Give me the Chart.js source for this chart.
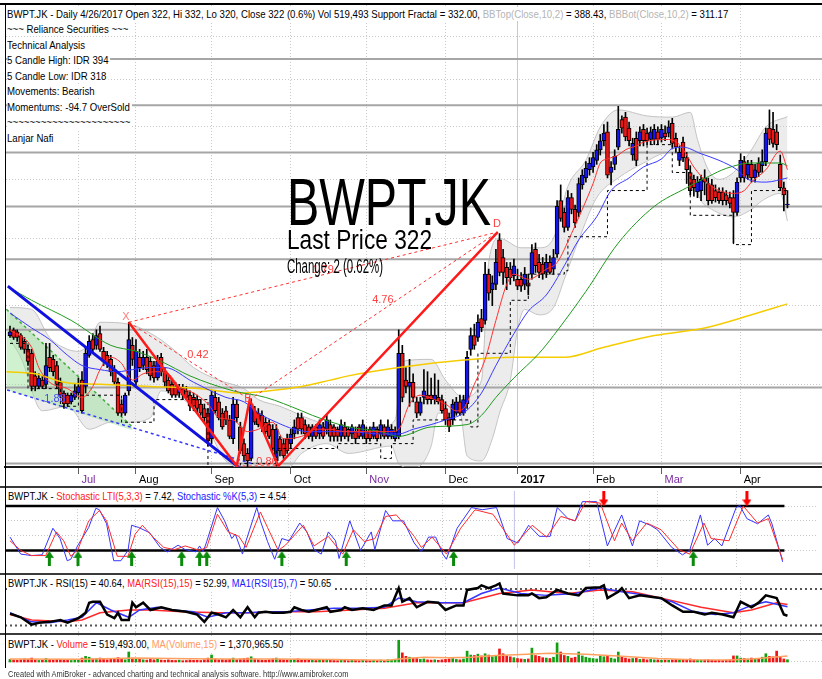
<!DOCTYPE html>
<html>
<head>
<meta charset="utf-8">
<script src="https://cdn.jsdelivr.net/npm/chart.js@4.4.1/dist/chart.umd.min.js"></script>
<style>
html, body { margin: 0; padding: 0; background: #fff; }
#wrap { position: relative; width: 822px; height: 679px; overflow: hidden; background: #fff; }
.pane { position: absolute; left: 0; width: 822px; }
.sep { position: absolute; left: 0; width: 822px; background: #3a3a3a; }
.t { position: absolute; font-family: "Liberation Sans", Arial, sans-serif; font-size: 11px; line-height: 14px;
     white-space: nowrap; background: #fff; color: #000; transform-origin: 0 0; padding-right: 2px; }
.big { position: absolute; font-family: "Liberation Sans", Arial, sans-serif; white-space: nowrap; color: #000; transform-origin: 0 0; }
.g { color: #b4b4b4; } .r { color: #ff2020; } .b { color: #2020ff; } .o { color: #ff9a60; }
</style>
</head>
<body>
<div id="wrap">
  <div class="pane" style="top:0;height:487px"><canvas id="cPrice"></canvas></div>
  <div class="pane" style="top:486px;height:88px"><canvas id="cStoch"></canvas></div>
  <div class="pane" style="top:574px;height:58px"><canvas id="cRsi"></canvas></div>
  <div class="pane" style="top:632px;height:36px"><canvas id="cVol"></canvas></div>

  <div class="sep" style="top:3px;height:2px;background:#000"></div>
  <div class="sep" style="top:486px;height:2px"></div>
  <div class="sep" style="top:573px;height:2px"></div>
  <div class="sep" style="top:633px;height:2px"></div>
  <div class="sep" style="top:3px;left:5px;width:1px;height:665px;background:#000"></div>

  <div class="t" id="title" style="left:7px;top:6.7px" data-w="723">BWPT.JK - Daily 4/26/2017 Open 322, Hi 332, Lo 320, Close 322 (0.6%) Vol 519,493 Support Fractal = 332.00, <span class="g">BBTop(Close,10,2)</span> = 388.43, <span class="g">BBBot(Close,10,2)</span> = 311.17</div>
  <div class="t" data-ref="title" style="left:7px;top:22.2px">~~~ Reliance Securities ~~~</div>
  <div class="t" data-ref="title" style="left:7px;top:37.7px">Technical Analysis</div>
  <div class="t" data-ref="title" style="left:7px;top:53.2px">5 Candle High: IDR 394</div>
  <div class="t" data-ref="title" style="left:7px;top:68.7px">5 Candle Low: IDR 318</div>
  <div class="t" data-ref="title" style="left:7px;top:84.2px">Movements: Bearish</div>
  <div class="t" data-ref="title" style="left:7px;top:99.7px">Momentums: -94.7 OverSold</div>
  <div class="t" data-ref="title" style="left:7px;top:115.2px">~~~~~~~~~~~~~~~~~~~~~~</div>
  <div class="t" data-ref="title" style="left:7px;top:130.7px">Lanjar Nafi</div>

  <div class="big" style="left:287px;top:169px;font-size:66px;line-height:66px" data-w="204">BWPT.JK</div>
  <div class="big" style="left:287px;top:227px;font-size:27px;line-height:27px" data-w="145">Last Price 322</div>
  <div class="big" style="left:287px;top:256px;font-size:20px;line-height:20px" data-w="96">Change: 2 (0.62%)</div>

  <div class="t" style="left:8px;top:489px;line-height:15px" data-w="280">BWPT.JK - <span class="r">Stochastic LTI(5,3,3)</span> = 7.42, <span class="b">Stochastic %K(5,3)</span> = 4.54</div>
  <div class="t" style="left:8px;top:576px;line-height:15px" data-w="325">BWPT.JK - RSI(15) = 40.64, <span class="r">MA(RSI(15),15)</span> = 52.99, <span class="b">MA1(RSI(15),7)</span> = 50.65</div>
  <div class="t" style="left:8px;top:637px" data-w="277">BWPT.JK - <span class="r">Volume</span> = 519,493.00, <span class="o">MA(Volume,15)</span> = 1,370,965.50</div>
  <div class="t" style="left:8px;top:669.4px;font-size:9px;line-height:11px;color:#333;background:none" data-w="342">Created with AmiBroker - advanced charting and technical analysis software. http://www.amibroker.com</div>
</div>

<script>
// ---- bars: one per trading day, Jun 2016 .. 26 Apr 2017 ----
const opens = [244,247,246,244,241,237,235,224,219,222, 220,233,232,229,221,216,215,212,214,216,
  222,219,234,242,239,245,236,234,232,227, 221,211,207,217,239,221,233,229,233,231,
  229,223,233,226,222,220,219,216,218,217, 215,214,213,211,209,207,196,214,212,207,
  208,204,196,211,201,194,190,188,208,207, 206,203,202,200,187,196,194,196,194,198,
  205,205,202,201,197,201,198,201,200,202, 201,200,197,201,200,198,199,201,197,199,
  200,197,200,198,201,197,197,196,197,235, 222,219,221,212,207,214,215,215,213,214,
  213,209,205,204,207,212,207,211,237,244, 243,253,252,278,269,272,299,288,282,281,
  277,275,275,272,273,278,293,285,284,279, 285,281,290,325,317,307,327,319,317,336,
  341,347,349,354,362,369,376,345,351,364, 386,388,379,358,371,369,378,375,370,370,
  376,371,375,375,383,371,354,368,356,345, 340,331,332,341,337,336,332,331,331,329,
  327,327,317,341,353,343,351,341,352,350, 353,379,378,376,351,334,322];
const highs = [249,248,247,245,243,239,237,226,225,224, 240,240,234,231,223,217,216,216,220,223,
  226,238,244,245,247,249,238,236,234,229, 223,213,216,251,243,242,237,236,237,233,
  231,234,235,228,224,222,221,220,220,219, 217,216,215,213,211,209,217,217,214,209,
  210,206,214,213,203,196,192,213,210,209, 208,205,204,202,202,197,196,198,200,204,
  207,207,204,202,202,202,204,203,206,204, 202,201,204,203,201,202,201,202,204,201,
  201,203,201,204,202,204,202,201,247,239, 228,232,225,214,214,227,226,223,225,222,
  215,212,207,213,214,215,215,236,248,250, 255,258,285,281,277,293,303,293,285,285,
  287,281,279,282,278,296,297,290,288,290, 289,293,325,336,320,332,330,322,341,347,
  353,356,360,366,374,382,384,353,362,397, 389,392,384,371,376,380,382,379,380,382,
  380,382,381,385,387,375,365,372,360,350, 343,342,343,347,341,340,336,334,334,332,
  331,332,341,359,357,354,354,351,356,362, 379,394,392,382,358,338,332];
const lows = [243,242,241,237,235,229,217,217,218,218, 218,226,224,218,214,209,210,211,213,215,
  207,216,233,235,237,236,229,228,224,220, 206,206,206,215,229,219,226,227,225,222,
  221,222,224,219,216,214,214,214,213,213, 208,208,207,206,203,193,194,207,204,200,
  202,196,194,203,190,187,184,187,202,201, 199,198,196,191,185,189,188,190,192,196,
  198,198,196,196,195,196,196,196,198,195, 195,195,195,196,195,196,194,196,196,194,
  195,196,195,196,196,196,196,195,196,212, 216,210,212,205,206,211,211,211,211,211,
  207,202,199,202,206,206,206,209,234,237, 241,246,250,263,260,269,277,272,269,272,
  274,269,268,269,266,275,279,276,275,276, 278,278,288,311,304,305,316,307,314,333,
  338,343,345,351,358,365,341,336,347,362, 375,369,365,354,350,365,365,366,366,366,
  366,368,369,372,364,360,350,353,337,329, 328,327,325,329,322,323,324,323,322,322,
  320,297,315,338,338,340,338,338,342,345, 350,366,364,362,332,318,320];
const closes = [246,243,243,238,237,231,219,219,223,219, 229,228,226,220,215,211,211,215,217,219,
  208,235,241,237,244,237,231,230,226,221, 207,207,215,242,232,236,228,233,227,224,
  223,231,226,221,217,215,215,218,215,214, 210,210,209,207,205,195,215,208,205,201,
  204,197,211,205,191,189,187,211,203,202, 201,199,197,192,200,191,189,191,198,201,
  200,200,198,197,201,197,202,197,204,197, 197,197,202,197,197,201,196,197,202,196,
  196,201,196,202,197,201,200,199,235,214, 219,221,214,207,212,217,213,213,215,212,
  208,204,201,211,212,207,213,233,244,239, 251,248,278,267,273,285,279,279,276,276,
  283,271,271,278,271,291,283,279,278,285, 279,288,321,313,307,327,319,310,337,343,
  348,352,356,362,369,375,343,349,357,378, 379,372,369,367,354,376,369,369,376,378,
  370,378,372,380,367,364,360,356,347,332, 334,338,340,338,325,325,327,325,325,325,
  323,317,338,354,341,351,341,347,345,353, 375,370,367,366,334,329,322];
// volume in thousands of shares
const volumes = [600,450,380,520,700,650,900,500,350,420, 800,520,400,600,550,480,380,350,420,500,
  900,1300,1100,700,800,900,600,500,650,700, 1000,600,500,2300,900,800,600,500,450,600,
  500,700,450,400,500,380,350,420,300,350, 450,380,400,350,500,900,1600,700,500,550,
  500,600,900,500,700,800,900,1200,700,500, 450,400,500,700,900,600,500,450,500,600,
  700,500,400,380,450,350,500,380,600,400, 350,300,450,380,300,400,350,300,450,350,
  300,400,350,450,300,500,400,600,5000,2100, 1300,1100,900,800,600,700,500,450,500,400,
  500,600,700,800,600,500,700,2500,1600,1500, 1800,1400,1900,1600,1200,1500,3000,1900,1400,1200,
  1000,800,700,600,700,3200,1500,1300,1000,900, 800,1100,4400,2300,1500,1300,900,1100,2300,1400,
  1100,900,800,700,1400,1200,1400,900,700,2300, 1200,900,700,800,900,600,700,500,600,500,
  500,400,450,400,500,600,450,500,600,700, 500,450,400,450,500,400,350,400,350,450,
  500,1400,1400,900,800,700,900,700,800,1100, 1900,1300,1200,2500,1100,700,519];

// ---- x axis ----
const monthTicks = [19, 35, 56, 78, 99, 121, 141, 162, 181, 203];
const monthLabels = ['Jul', 'Aug', 'Sep', 'Oct', 'Nov', 'Dec', '2017', 'Feb', 'Mar', 'Apr'];
const yearBar = 141;

// ---- price overlays, [bar, price] ----
const bbUpper = [[0,259],[6,258],[11,243],[16,237],[19,236],[22,240],[25,251],[33,250],[41,243],[46,236],[51,228],[58,222],
  [65,218],[69,213],[75,210],[84,204],[94,200],[103,201],[107,204],[109,231],[117,232],[121,222],[126,214],[131,222],
  [133,285],[136,300],[142,294],[147,294],[151,300],[155,335],[160,354],[164,380],[169,394],[177,389],[184,388],
  [189,392],[191,370],[194,347],[197,340],[201,345],[206,362],[210,380],[216,388.43]];
const bbLower = [[0,242],[3,233],[9,208],[16,210],[22,200],[28,203],[33,203],[39,205],[42,217],[49,212],[55,200],[60,187],
  [67,184],[77,184],[81,190],[88,194],[94,190],[106,193],[108,186],[112,184],[117,193],[119,207],[125,207],[127,189],
  [131,187],[134,196],[136,207],[139,222],[141,247],[143,258],[147,255],[151,259],[154,275],[158,299],[163,327],
  [169,341],[176,352],[183,360],[188,352],[192,325],[195,319],[201,314],[206,319],[209,325],[214,330],[216,311.17]];
const maRed = [[0,247],[6,238],[8,228],[11,221],[16,218],[20,214],[23,219],[25,227],[28,233],[31,230],[34,222],[37,225],
  [41,226],[44,225],[47,219],[51,216],[55,211],[58,205],[62,204],[66,199],[69,200],[73,203],[76,196],[81,197],[85,200],
  [89,200],[93,199],[97,199],[101,199],[106,199],[108,200],[111,211],[114,215],[118,213],[121,211],[124,208],[126,209],
  [129,220],[132,232],[135,252],[138,272],[140,278],[144,275],[149,281],[152,285],[156,303],[159,319],[162,337],
  [164,352],[166,355],[169,358],[171,362],[174,365],[176,368],[183,370],[186,366],[188,358],[190,349],[194,337],
  [197,332],[201,330],[204,332],[206,338],[210,347],[214,361],[216,347]];
const maBlue = [[0,256],[6,248],[11,242],[16,234],[20,229],[25,227],[30,226],[34,227],[39,228],[43,228],[51,221],[60,214],
  [65,212],[69,207],[74,203],[79,200],[83,199],[94,199],[103,198],[108,198],[112,200],[117,202],[121,204],[126,207],
  [131,216],[135,229],[140,245],[144,257],[149,266],[154,283],[158,299],[163,314],[167,332],[172,341],[176,349],
  [181,355],[184,363],[187,364],[192,359],[197,354],[202,347],[205,340],[210,338],[216,341]];
const maGreen = [[0,270],[6,263],[17,252],[28,239],[35,236],[42,231],[50,224],[62,217],[71,214],[81,208],[84,206],[94,201],
  [103,199],[108,197],[117,201],[127,202],[131,206],[135,214],[140,223],[147,235],[151,244],[160,268],[169,297],
  [179,321],[188,334],[194,342],[199,348],[206,352],[214,352],[216,350]];
const maYellow = [[-1,226],[7,225],[15,221],[25,220],[39,219],[53,218],[64,216],[72,217],[81,219],[89,222],[94,224],
  [108,228],[122,231],[140,233],[154,233],[165,238],[179,244],[193,248],[206,255],[216,261]];
// support fractal steps: [fromBar, toBar, price]
const fractalSteps = [[0,5,240],[5,14,218],[14,19,210],[19,31,215],[31,40,203],[40,55,213],[55,64,184],[64,74,186],
  [74,91,192],[91,103,194],[103,106,188],[106,112,194],[112,128,204],[128,130,201],[130,139,235],[139,144,263],
  [144,154,278],[154,155,280],[155,166,301],[166,177,332],[177,184,366],[184,189,345],[189,201,315],[201,206,296],
  [206,216.5,332]];
const levelPrices = [439, 398, 360, 321, 287, 247, 218.5, 186];
const gridPrices = [220, 260, 300, 340, 380, 420, 460];
// harmonic pattern X-A-B-C-D and channel lines
const harmonic = [[33,251],[63,185],[66.6,213],[74.5,185],[135.5,304]];
const harmonicLinks = [[[33,251],[66.6,213]], [[33,251],[135.5,304]], [[66.6,213],[135.5,304]], [[63,185],[74.5,185]]];
const channelBlue = [[-0.6,271],[64,184]];
const channelBlueDot = [[-0.8,217.4],[67.5,185.8]];
const wedgeTop = [[-1,258],[34,201]];
const wedgeBottom = [[-1,217.5],[34,199.6]];
const patternLabels = [['X',32.2,254,'#ff7a7a'],['B',66.1,213.3,'#ff4040'],['D',135.3,309,'#ff4040'],
  ['0.42',52.2,234,'#ff4040'],['1.79',87,280.5,'#ff4040'],['4.76',103.6,263,'#ff4040'],
  ['0.86',71.4,186.5,'#ff4040'],['1.88',12.5,213.4,'#4848ff']];

// ---- stochastic ----
const stochK = [[0,38],[3,15],[6,13],[9,14],[11,38],[12,50],[14,36],[16,6],[17,8],[19,27],[22,51],[24,77],[25,75],[27,56],
  [29,6],[31,6],[33,20],[34,54],[36,51],[39,44],[42,24],[44,18],[47,27],[49,21],[52,18],[53,26],[54,18],[55,32],[58,78],
  [60,60],[62,36],[63,42],[65,15],[66,33],[69,78],[70,60],[72,32],[74,8],[76,36],[78,33],[81,57],[83,45],[85,21],[87,15],
  [89,45],[91,33],[92,9],[95,60],[98,20],[101,45],[102,21],[105,74],[107,60],[110,60],[113,30],[115,18],[117,38],[119,38],
  [121,15],[122,8],[125,50],[129,78],[132,75],[136,78],[139,36],[142,30],[145,54],[148,39],[151,39],[153,78],[156,63],
  [158,60],[160,86],[164,86],[167,26],[171,68],[174,26],[176,60],[179,54],[181,48],[185,24],[188,14],[190,20],[193,68],
  [195,27],[197,36],[199,26],[203,78],[204,81],[206,63],[209,56],[212,68],[213,56],[216,4.54]];
const stochD = [[0,33],[3,20],[6,13],[10,13],[13,45],[15,33],[17,12],[19,21],[22,60],[25,74],[27,60],[30,12],[33,12],
  [35,42],[37,54],[40,38],[43,24],[46,21],[49,26],[53,20],[55,24],[58,69],[61,45],[64,39],[66,24],[70,72],[72,51],[75,20],
  [77,27],[82,54],[85,26],[89,39],[93,15],[96,48],[99,32],[102,36],[105,66],[108,68],[111,51],[113,39],[115,24],[118,38],
  [122,15],[126,50],[130,75],[135,69],[141,27],[146,54],[150,38],[154,66],[158,60],[161,86],[165,84],[169,33],[171,57],
  [174,33],[178,57],[182,48],[187,21],[190,15],[194,57],[196,36],[201,33],[205,80],[209,57],[212,63],[216,7.42]];
const buyArrows = [11, 19, 34, 48, 53, 55, 76, 94, 124, 191];
const sellArrows = [166, 206];

// ---- RSI ----
const rsi = [[0,43],[3,39],[6,31],[8,33],[11,34],[14,36],[16,33],[19,38],[21,44],[22,55],[23,56],[25,56],[27,42],[29,38],
  [30,44],[31,36],[33,36],[34,55],[35,50],[37,55],[39,47],[42,50],[45,47],[49,45],[52,42],[54,34],[56,44],[58,42],[60,39],
  [62,47],[64,39],[66,50],[68,39],[69,44],[71,45],[73,44],[76,44],[78,45],[79,50],[81,47],[83,45],[85,47],[88,50],[89,45],
  [92,47],[93,50],[95,47],[98,49],[101,47],[104,52],[106,52],[108,71],[109,56],[111,60],[113,50],[116,56],[119,55],
  [121,47],[124,52],[126,52],[127,69],[130,71],[131,74],[133,71],[135,74],[136,76],[137,65],[141,63],[144,63],[145,65],
  [147,60],[149,61],[152,69],[155,65],[158,63],[160,71],[164,72],[165,74],[166,60],[169,67],[170,71],[172,60],[175,63],
  [179,61],[181,60],[184,52],[187,45],[190,45],[193,42],[195,44],[198,42],[201,39],[203,56],[205,52],[206,50],[208,55],
  [210,63],[213,60],[215,42],[216,40.64]];
const rsiMa7 = [[0,44],[6,34],[11,33],[16,36],[20,39],[24,55],[28,47],[33,39],[36,47],[41,50],[45,47],[51,45],[55,39],
  [60,44],[66,44],[71,45],[77,45],[83,47],[90,49],[97,49],[104,50],[108,60],[113,56],[120,55],[126,55],[131,65],[136,71],
  [142,65],[149,63],[157,65],[164,71],[170,67],[177,63],[184,56],[190,45],[196,42],[201,44],[206,52],[210,56],[216,50.65]];
const rsiMa15 = [[0,42],[6,36],[16,34],[20,36],[25,44],[33,47],[39,47],[48,45],[58,44],[67,44],[76,45],[85,45],[95,47],
  [104,49],[113,55],[117,55],[126,55],[136,65],[145,69],[155,65],[164,69],[173,67],[181,60],[192,50],[201,44],[206,47],
  [213,55],[216,52.99]];

// ---- volume MA(15), thousands ----
const volMa = [[0,700],[20,650],[35,900],[50,750],[60,700],[75,700],[90,550],[105,420],[108,700],[115,1100],[122,1000],
  [128,1100],[135,1500],[142,1700],[150,2000],[160,1800],[170,1300],[180,800],[190,500],[200,450],[206,700],[212,1100],
  [216,1371]];

const FONT = '"Liberation Sans", Arial, sans-serif';
const XMIN = -1.39, XMAX = 225.6;
const PMIN = 184.6, PMAX = 492.3;
const pts = a => a.map(p => ({ x: p[0], y: p[1] }));
const hline = (v, x0, x1) => [{ x: x0, y: v }, { x: x1, y: v }];

function xAxis(labels) {
  return {
    type: 'linear', min: XMIN, max: XMAX, offset: false,
    afterBuildTicks: s => { s.ticks = monthTicks.map(v => ({ value: v })); },
    afterFit: s => { s.height = labels ? 20 : 0; },
    grid: { color: '#c9c9c9', lineWidth: 1, offset: false, drawTicks: labels, tickLength: 7,
            tickColor: '#606060', tickBorderDash: [], tickWidth: 1 },
    border: { display: labels, color: '#1a1a1a', width: 2, dash: [1, 2] },
    ticks: {
      display: labels, autoSkip: false, maxRotation: 0, align: 'start', labelOffset: 3, padding: -1,
      color: c => (c.tick && [19, 99, 181].includes(c.tick.value)) ? '#7a2c9e' : '#000',
      font: c => ({ family: FONT, size: 11, weight: (c.tick && c.tick.value === yearBar) ? 'bold' : 'normal' }),
      callback: v => monthLabels[monthTicks.indexOf(v)]
    }
  };
}
function yAxis(min, max, ticks, extra) {
  return Object.assign({
    type: 'linear', min: min, max: max,
    afterBuildTicks: s => { s.ticks = ticks.map(v => ({ value: v })); },
    afterFit: s => { s.width = 0; },
    ticks: { display: false },
    grid: { color: '#c9c9c9', drawTicks: false },
    border: { display: false, dash: [1, 2] }
  }, extra || {});
}
const baseOpts = (scales, padTop) => ({
  animation: false, responsive: true, maintainAspectRatio: false, events: [],
  layout: { padding: { left: 5, right: 0, top: padTop || 0, bottom: 0 } },
  plugins: { legend: { display: false }, tooltip: { enabled: false } },
  elements: { point: { radius: 0 }, line: { borderWidth: 1, fill: false } },
  scales: scales
});
const line = (data, color, width, extra) => Object.assign({
  type: 'line', data: data, borderColor: color, borderWidth: width, pointRadius: 0, fill: false, tension: 0
}, extra || {});

// ---- price pane ----
const levelData = [];
levelPrices.forEach(p => { levelData.push({ x: XMIN - 1, y: p }, { x: XMAX + 1, y: p }, { x: XMAX + 1, y: null }); });
const fractalData = [];
fractalSteps.forEach(s => { fractalData.push({ x: s[0], y: s[2] }, { x: s[1], y: s[2] }); });
const harmonicDots = [];
harmonicLinks.forEach(l => { harmonicDots.push({ x: l[0][0], y: l[0][1] }, { x: l[1][0], y: l[1][1] }, { x: l[1][0], y: null }); });

const labelPlugin = {
  id: 'patternLabels',
  afterDatasetsDraw(chart) {
    const { ctx, scales: { x, y } } = chart;
    ctx.save();
    ctx.font = '11px ' + FONT;
    ctx.textAlign = 'center';
    ctx.textBaseline = 'middle';
    patternLabels.forEach(([t, i, p, c]) => {
      ctx.fillStyle = c;
      ctx.fillText(t, x.getPixelForValue(i), y.getPixelForValue(p));
    });
    ctx.restore();
  }
};

new Chart(document.getElementById('cPrice'), {
  type: 'line',
  data: {
    datasets: [
      line(pts(bbUpper), '#c2c2c2', 1, { fill: '+1', backgroundColor: 'rgba(205,205,205,0.38)', cubicInterpolationMode: 'monotone', order: 30 }),
      line(pts(bbLower), '#c2c2c2', 1, { cubicInterpolationMode: 'monotone', order: 30 }),
      line(pts(wedgeTop), '#3fae3f', 1.5, { borderDash: [3, 3], fill: '+1', backgroundColor: 'rgba(150,225,150,0.45)', order: 29 }),
      line(pts(wedgeBottom), 'rgba(0,0,0,0)', 0, { order: 29 }),
      line(levelData, '#a6a6a6', 2, { order: 28 }),
      line([{ x: yearBar, y: PMIN }, { x: yearBar, y: PMAX }], '#c4c4ee', 1, { order: 28 }),
      { type: 'bar', data: highs.map((h, i) => ({ x: i, y: [lows[i], h] })), backgroundColor: '#000',
        barThickness: 1, grouped: false, order: 20 },
      { type: 'bar', data: opens.map((o, i) => ({ x: i, y: [o, closes[i]] })),
        backgroundColor: opens.map((o, i) => closes[i] >= o ? '#1414f0' : '#f01414'),
        borderColor: '#000', borderWidth: 1, borderSkipped: false, minBarLength: 1,
        barThickness: 4, grouped: false, order: 19 },
      line(pts(maYellow), '#f5cc00', 1.5, { cubicInterpolationMode: 'monotone', order: 9 }),
      line(fractalData, '#000', 1, { borderDash: [3, 3], order: 8 }),
      line(pts(maGreen), '#1f9a1f', 1, { cubicInterpolationMode: 'monotone', order: 7 }),
      line(pts(maBlue), '#3a3aff', 1, { cubicInterpolationMode: 'monotone', order: 6 }),
      line(pts(maRed), '#ff3030', 1, { cubicInterpolationMode: 'monotone', order: 5 }),
      line(pts(channelBlue), '#1010e0', 3, { order: 4 }),
      line(pts(channelBlueDot), '#3a3aff', 1.5, { borderDash: [3, 3], order: 4 }),
      line(harmonicDots, '#ff3030', 1, { borderDash: [3, 3], order: 3 }),
      line(pts(harmonic), '#ff1a1a', 2.5, { order: 2 })
    ]
  },
  options: baseOpts({
    x: xAxis(true),
    y: yAxis(PMIN, PMAX, gridPrices, { type: 'logarithmic', border: { display: true, color: '#000', width: 1, dash: [1, 2] } })
  }, 5),
  plugins: [labelPlugin]
});

// ---- stochastic pane ----
function arrowImg(color, up) {
  const c = document.createElement('canvas');
  c.width = 9; c.height = 15;
  const g = c.getContext('2d');
  g.fillStyle = color;
  g.beginPath();
  if (up) { g.moveTo(4.5, 0); g.lineTo(9, 7); g.lineTo(6, 7); g.lineTo(6, 15); g.lineTo(3, 15); g.lineTo(3, 7); g.lineTo(0, 7); }
  else { g.moveTo(4.5, 15); g.lineTo(9, 8); g.lineTo(6, 8); g.lineTo(6, 0); g.lineTo(3, 0); g.lineTo(3, 8); g.lineTo(0, 8); }
  g.closePath(); g.fill();
  return c;
}
new Chart(document.getElementById('cStoch'), {
  type: 'line',
  data: {
    datasets: [
      line([{ x: yearBar, y: -10 }, { x: yearBar, y: 110 }], '#c4c4ee', 1, { order: 9 }),
      line(hline(80, XMIN, 216.5), '#000', 2.5, { order: 8 }),
      line(hline(20, XMIN, 216.5), '#000', 2.5, { order: 8 }),
      line(pts(stochK), '#3434ff', 1, { order: 3 }),
      line(pts(stochD), '#ff2a2a', 1, { order: 2 }),
      line(buyArrows.map(i => ({ x: i, y: 9.2 })), '#0a8a0a', 0, { showLine: false, pointRadius: 5, pointStyle: arrowImg('#0a8a0a', true), order: 1 }),
      line(sellArrows.map(i => ({ x: i, y: 89.6 })), '#ff0000', 0, { showLine: false, pointRadius: 5, pointStyle: arrowImg('#ff0000', false), order: 1 })
    ]
  },
  options: baseOpts({ x: xAxis(false), y: yAxis(-5.2, 100.4, [20, 40, 60, 80]) })
});

// ---- RSI pane ----
new Chart(document.getElementById('cRsi'), {
  type: 'line',
  data: {
    datasets: [
      line([{ x: yearBar, y: 0 }, { x: yearBar, y: 100 }], '#c4c4ee', 1, { order: 9 }),
      line(hline(70, XMIN, XMAX), '#555', 2, { borderDash: [2, 3], order: 8 }),
      line(hline(30, XMIN, XMAX), '#555', 2, { borderDash: [2, 3], order: 8 }),
      line(pts(rsiMa15), '#ff2a2a', 1.5, { order: 4 }),
      line(pts(rsiMa7), '#3434ff', 1.5, { order: 3 }),
      line(pts(rsi), '#000', 2.5, { order: 2 })
    ]
  },
  options: baseOpts({ x: xAxis(false), y: yAxis(22.9, 86.4, []) })
});

// ---- volume pane ----
new Chart(document.getElementById('cVol'), {
  type: 'line',
  data: {
    datasets: [
      line([{ x: yearBar, y: -2000 }, { x: yearBar, y: 8000 }], '#c4c4ee', 1, { order: 9 }),
      { type: 'bar', data: volumes.map((v, i) => ({ x: i, y: v })),
        backgroundColor: opens.map((o, i) => closes[i] >= o ? '#12a012' : '#f01414'),
        barThickness: 2, grouped: false, order: 5 },
      line(pts(volMa), '#ffa060', 1.5, { order: 2 })
    ]
  },
  options: baseOpts({ x: xAxis(false), y: yAxis(-1380, 6900, [230, 5060]) })
});

// squeeze text horizontally to the widths of the reference
const titleEl = document.getElementById('title');
const titleScale = titleEl.dataset.w / titleEl.getBoundingClientRect().width;
document.querySelectorAll('[data-w]').forEach(el => {
  const s = el.dataset.w / el.getBoundingClientRect().width;
  el.style.transform = 'scaleX(' + s + ')';
});
document.querySelectorAll('[data-ref]').forEach(el => { el.style.transform = 'scaleX(' + titleScale + ')'; });
</script>
</body>
</html>
